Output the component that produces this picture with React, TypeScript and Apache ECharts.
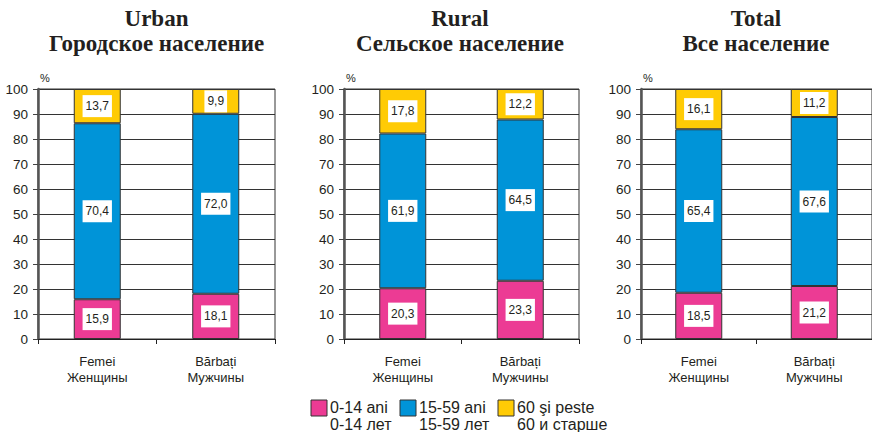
import React, { useEffect, useRef } from "react";
import * as echarts from "echarts";

const categories = ["Femei\nЖенщины", "Bărbați\nМужчины"];
const panelTitles = ["Urban\nГородское население", "Rural\nСельское население", "Total\nВсе население"];
const yTicks = [0, 100, 10];

const urban0_14 = [15.9, 18.1];
const urban15_59 = [70.4, 72.0];
const urban60 = [13.7, 9.9];

const rural0_14 = [20.3, 23.3];
const rural15_59 = [61.9, 64.5];
const rural60 = [17.8, 12.2];

const total0_14 = [18.5, 21.2];
const total15_59 = [65.4, 67.6];
const total60 = [16.1, 11.2];

const seriesNames = ["0-14 ani\n0-14 лет", "15-59 ani\n15-59 лет", "60 şi peste\n60 и старше"];
const colors = ["#EC3B94", "#0094D8", "#FFCB05"];

const panels = [
  [urban0_14, urban15_59, urban60],
  [rural0_14, rural15_59, rural60],
  [total0_14, total15_59, total60],
];

const gridLefts = [38, 344, 641];
const gridWidths = [237, 235, 236];
const titleCenters = [156.5, 460, 756];
const legendX = [311, 400, 498];

const TEXT = "#231F20";
const FONT = "'Liberation Sans', Arial, sans-serif";

export default function App() {
  const ref = useRef<HTMLDivElement>(null);
  useEffect(() => {
    if (!ref.current) return;
    const chart = echarts.init(ref.current, undefined, { renderer: "svg" });
    const grid = gridLefts.map((l, i) => ({
      left: l,
      width: gridWidths[i],
      top: 89,
      height: 250,
      show: true,
      borderColor: "#333",
      borderWidth: 1,
      backgroundColor: "transparent",
    }));
    const xAxis = gridLefts.map((_, i) => ({
      type: "category",
      gridIndex: i,
      data: categories,
      axisLine: { lineStyle: { color: "#222", width: 1 } },
      axisTick: { show: true, length: 5, alignWithLabel: false, lineStyle: { color: "#222" } },
      axisLabel: { color: TEXT, fontSize: 13, lineHeight: 16, margin: 14, fontFamily: FONT },
    }));
    const yAxis = gridLefts.map((_, i) => ({
      type: "value",
      gridIndex: i,
      min: yTicks[0],
      max: yTicks[1],
      interval: yTicks[2],
      name: "%",
      nameLocation: "end",
      nameGap: 6,
      nameTextStyle: { color: TEXT, fontSize: 11, align: "left", padding: [0, 0, 0, 2], fontFamily: FONT },
      axisLine: { show: true, lineStyle: { color: "#555", width: 2.5 } },
      axisTick: { show: true, length: 5, inside: false, lineStyle: { color: "#444" } },
      axisLabel: { color: TEXT, fontSize: 13.5, margin: 10, fontFamily: FONT },
      splitLine: { show: true, lineStyle: { color: "#333", width: 1 } },
    }));
    const series: any[] = [];
    panels.forEach((p, gi) => {
      p.forEach((vals, si) => {
        series.push({
          type: "bar",
          name: seriesNames[si],
          xAxisIndex: gi,
          yAxisIndex: gi,
          stack: "s" + gi,
          data: vals,
          barWidth: 47,
          itemStyle: { color: colors[si], borderColor: "#333", borderWidth: 1 },
          label: {
            show: true,
            position: "inside",
            formatter: (d: any) => Number(d.value).toFixed(1).replace(".", ","),
            backgroundColor: "#fff",
            padding: [5, 3],
            color: TEXT,
            fontSize: 12,
            fontFamily: FONT,
          },
        });
      });
    });
    const graphic: any[] = [];
    panelTitles.forEach((t, i) => {
      graphic.push({
        type: "text",
        x: titleCenters[i],
        y: 6,
        style: {
          text: t,
          align: "center",
          textAlign: "center",
          verticalAlign: "top",
          textVerticalAlign: "top",
          fontSize: 23,
          fontWeight: "bold",
          fontFamily: "'Liberation Serif', 'Times New Roman', serif",
          lineHeight: 25,
          fill: TEXT,
        },
      });
    });
    seriesNames.forEach((n, i) => {
      graphic.push({
        type: "rect",
        shape: { x: legendX[i], y: 400, width: 16, height: 16 },
        style: { fill: colors[i], stroke: "#333", lineWidth: 1 },
      });
      graphic.push({
        type: "text",
        x: legendX[i] + 19,
        y: 399,
        style: {
          text: n,
          align: "left",
          textAlign: "left",
          verticalAlign: "top",
          textVerticalAlign: "top",
          fontSize: 16,
          fontFamily: FONT,
          lineHeight: 17,
          fill: TEXT,
        },
      });
    });
    chart.setOption({
      animation: false,
      backgroundColor: "#fff",
      textStyle: { fontFamily: FONT },
      grid,
      xAxis,
      yAxis,
      series,
      graphic,
    });
    return () => chart.dispose();
  }, []);
  return (
    <div
      ref={ref}
      style={{ position: "fixed", left: 0, top: 0, width: 872, height: 432 }}
    />
  );
}
